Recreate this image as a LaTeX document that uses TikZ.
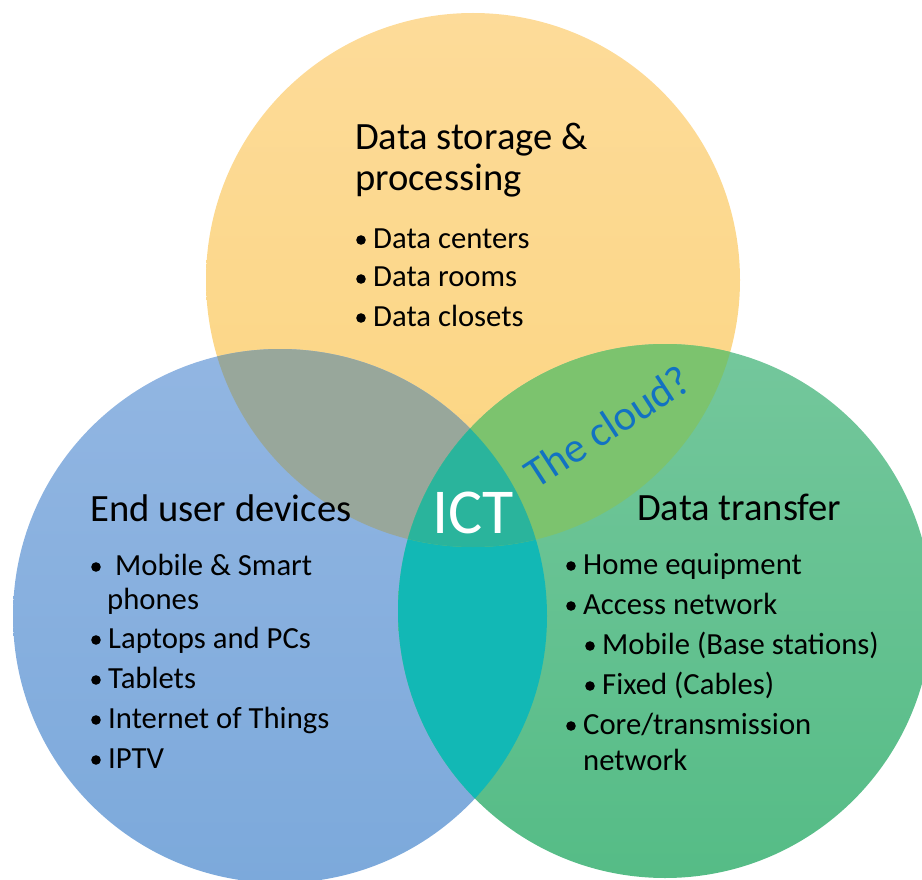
\documentclass[tikz,border=0pt]{standalone}
\usepackage{fontspec}
\setmainfont{Carlito}
\definecolor{yTop}{HTML}{FDDB99}
\definecolor{yBot}{HTML}{FBD580}
\definecolor{bTop}{HTML}{92B6E2}
\definecolor{bBot}{HTML}{7CA9DB}
\definecolor{gTop}{HTML}{74C79C}
\definecolor{gBot}{HTML}{55BC86}
\definecolor{cYB}{HTML}{98A79B}
\definecolor{cYG}{HTML}{7CC36E}
\definecolor{cBG}{HTML}{12B8B5}
\definecolor{cAll}{HTML}{2AB49C}
\definecolor{cloudblue}{HTML}{1272C2}
\tikzset{
  ttl/.style={anchor=base west, inner sep=0pt, font=\fontsize{38.6}{45}\selectfont},
  itm/.style={anchor=base west, inner sep=0pt, font=\fontsize{30.7}{34}\selectfont},
  dotmark/.style={fill=black},
}
\newcommand\bdot[1]{\fill[dotmark] ([shift={(-12,-8)}]#1.base west) circle[radius=4.8pt];}
\begin{document}
\begin{tikzpicture}[x=1pt,y=-1pt]
\useasboundingbox (0,0) rectangle (922,880);
\clip (0,0) rectangle (922,880);
\coordinate (Y) at (473,280);
\coordinate (B) at (280,616);
\coordinate (G) at (665,611);
\def\R{267pt}
% base circles
\shade[top color=yTop, bottom color=yBot] (Y) circle[radius=\R];
\shade[top color=bTop, bottom color=bBot] (B) circle[radius=\R];
\shade[top color=gTop, bottom color=gBot] (G) circle[radius=\R];
% overlaps
\begin{scope}
  \clip (B) circle[radius=\R];
  \fill[cYB] (Y) circle[radius=\R];
  \fill[cBG] (G) circle[radius=\R];
\end{scope}
\begin{scope}
  \clip (G) circle[radius=\R];
  \fill[cYG] (Y) circle[radius=\R];
\end{scope}
\begin{scope}
  \clip (B) circle[radius=\R];
  \clip (G) circle[radius=\R];
  \fill[cAll] (Y) circle[radius=\R];
\end{scope}
% top circle text
\node[ttl] (yt1) at (355,150) {Data storage \&};
\node[ttl] (yt2) at (355,191) {processing};
\node[itm] (y1) at (373,248) {Data centers};
\node[itm] (y2) at (373,287) {Data rooms};
\node[itm] (y3) at (373,326) {Data closets};
\bdot{y1}\bdot{y2}\bdot{y3}
% left circle text
\node[ttl] (bt) at (90,521) {End user devices};
\node[itm] (b1) at (115,575) {Mobile \& Smart};
\node[itm] (b1b) at (107,609) {phones};
\node[itm] (b2) at (108,648) {Laptops and PCs};
\node[itm] (b3) at (108,688) {Tablets};
\node[itm] (b4) at (108,728) {Internet of Things};
\node[itm] (b5) at (108,768) {IPTV};
\fill[dotmark] ([shift={(-19,-8)}]b1.base west) circle[radius=4.8pt];
\bdot{b2}\bdot{b3}\bdot{b4}\bdot{b5}
% right circle text
\node[ttl] (gt) at (637,520) {Data transfer};
\node[itm] (g1) at (583,574) {Home equipment};
\node[itm] (g2) at (583,614) {Access network};
\node[itm] (g3) at (602,654) {Mobile (Base stations)};
\node[itm] (g4) at (602,694) {Fixed (Cables)};
\node[itm] (g5) at (583,734) {Core/transmission};
\node[itm] (g5b) at (583,770) {network};
\bdot{g1}\bdot{g2}\bdot{g3}\bdot{g4}\bdot{g5}
% centre labels
\node[anchor=base west, inner sep=0pt, text=white, font=\fontsize{64}{70}\selectfont] (ict) at (432,533) {ICT};
\node[anchor=base west, inner sep=0pt, rotate=33, text=cloudblue, font=\fontsize{42.5}{46}\selectfont] (cloud) at (536,490) {The cloud?};
\end{tikzpicture}
\end{document}
